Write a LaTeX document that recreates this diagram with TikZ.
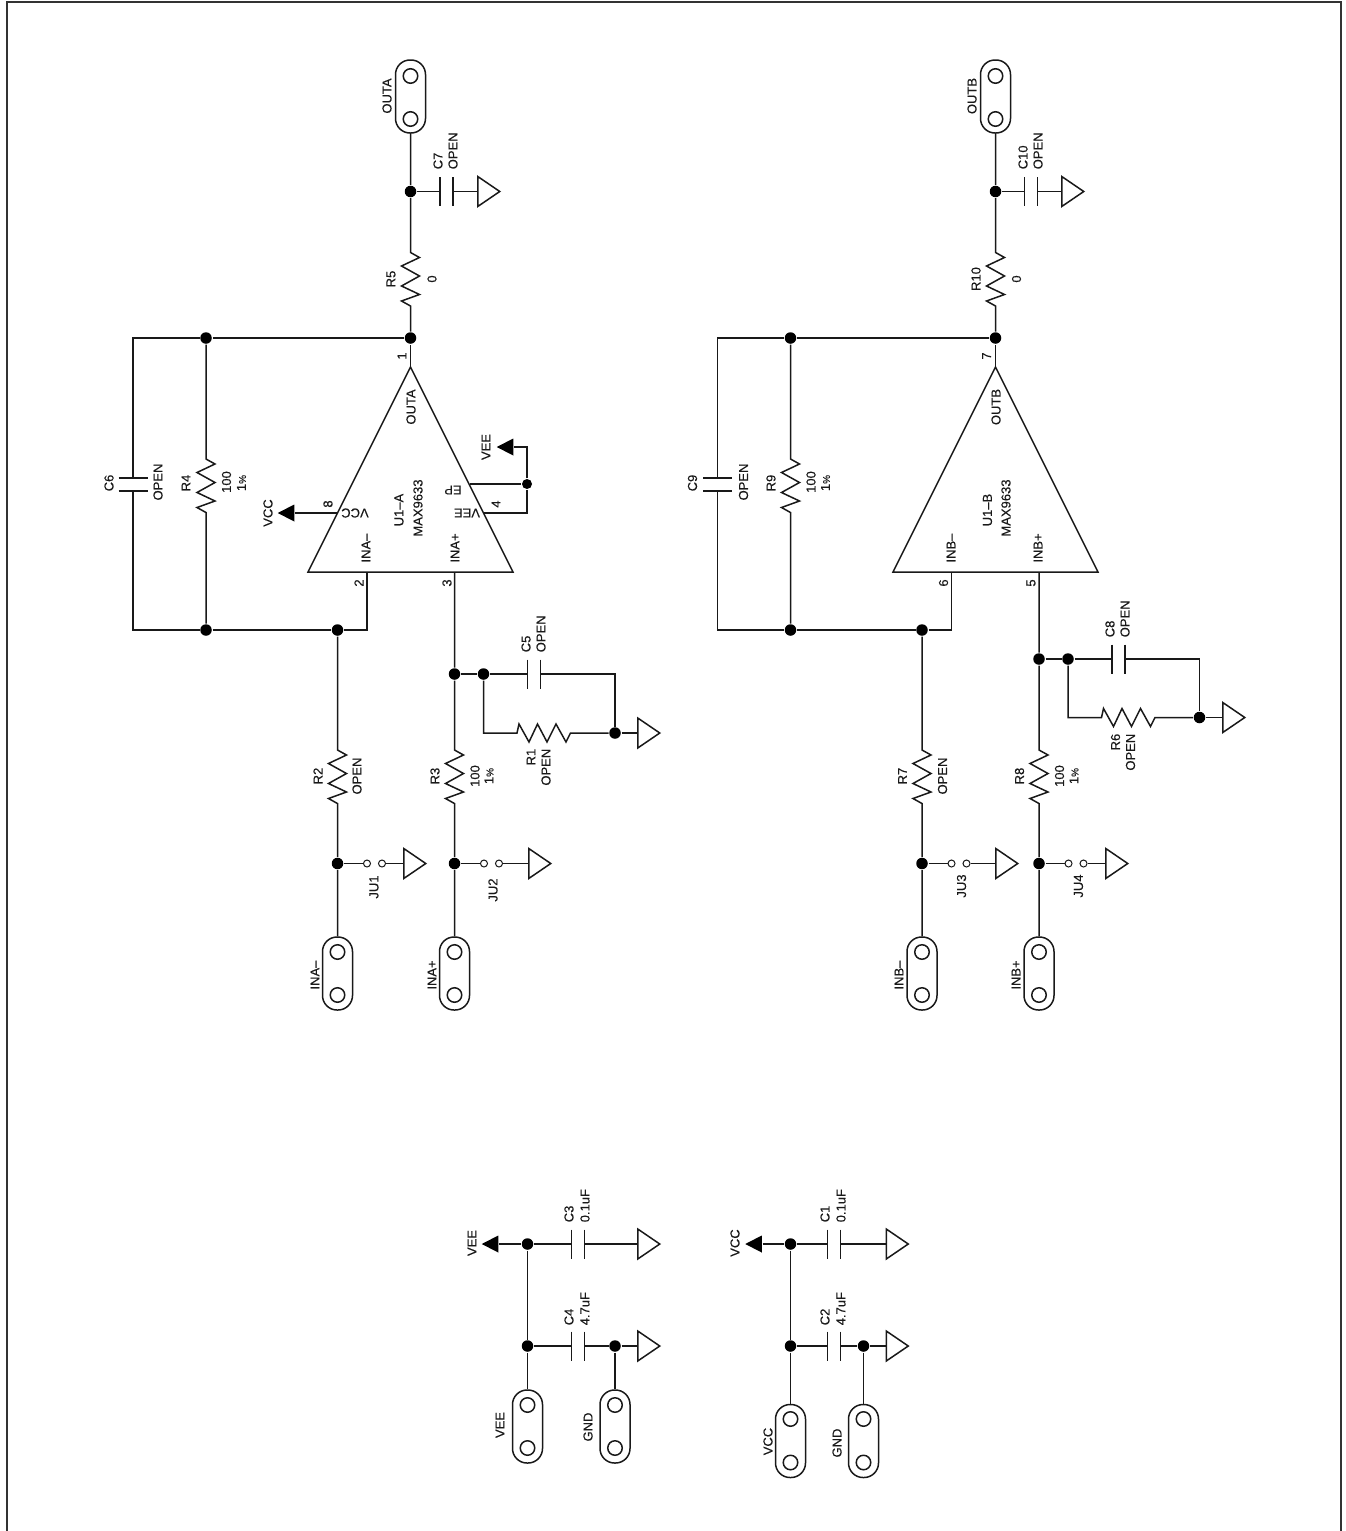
\documentclass[tikz,border=0pt]{standalone}
\usepackage{fontspec}
\setmainfont{Liberation Sans}[BoldFont=Liberation Sans, BoldFeatures={FakeBold=0.25}]
\newcommand{\onepct}{1{\fontsize{10}{10}\selectfont\%}}
\usetikzlibrary{shapes.geometric}

\begin{document}
\begin{tikzpicture}[x=1pt, y=-1pt, line width=1.5pt, black!90,
    frame/.style={line width=2pt, black!80},
    dot/.style={circle, fill=black, inner sep=0pt, minimum size=11.5pt},
    conn/.style={draw, rectangle, rounded corners=14.5pt, inner sep=0pt, minimum width=30pt, minimum height=73pt},
    hole/.style={draw, circle, inner sep=0pt, minimum size=14.5pt},
    jpin/.style={draw, circle, line width=1pt, inner sep=0pt, minimum size=7pt},
    gnd/.style={draw, isosceles triangle, isosceles triangle stretches, inner sep=0pt, minimum width=30pt, minimum height=22pt, anchor=lower side},
    supply/.style={fill=black, isosceles triangle, isosceles triangle stretches, shape border rotate=180, inner sep=0pt, minimum width=17pt, minimum height=16.5pt, anchor=lower side},
    lbl/.style={rotate=90, inner sep=0pt, font=\fontsize{13}{15}\selectfont\bfseries},
    lblb/.style={lbl, anchor=west},
    lblt/.style={lbl, anchor=east},
    lblu/.style={lbl, rotate=90},
    zv/.style={to path={-- ++(9,5) -- ++(-18,8.5) -- ++(18,10) -- ++(-18,10) -- ++(18,8.5) -- ++(-18,6.5) -- (\tikztotarget)}},
    zh/.style={to path={-- ++(2,-9) -- ++(10,18) -- ++(8.5,-18) -- ++(9.5,18) -- ++(9,-18) -- ++(10,18) -- (\tikztotarget)}},
    caph/.style={to path={(\tikztostart) ++(0,-14.5) -- ++(0,29) (\tikztotarget) ++(0,-14.5) -- ++(0,29) (\tikztotarget)}},
    capv/.style={to path={(\tikztostart) ++(-14.5,0) -- ++(29,0) (\tikztotarget) ++(-14.5,0) -- ++(29,0) (\tikztotarget)}}
    ]
\useasboundingbox (0,0) rectangle (1345,1531);
\draw[frame] (7,1535) -- (7,2) -- (1341,2) -- (1341,1535);

% amplifier A
\node[conn] (OUTA) at (410.5,96.5) {};
\node[hole] (OUTAh1) at (410.5,76) {};
\node[hole] (OUTAh2) at (410.5,119) {};
\node[lbl] (OUTAl) at (387,96) {OUTA};
\node[dot] (dA0) at (410.5,191.5) {};
\coordinate (C7a) at (440,191.5);
\coordinate (C7b) at (453,191.5);
\node[gnd] (gA0) at (477,191.5) {};
\node[lblb] (C7l) at (438,170) {C7};
\node[lblb] (C7v) at (453,170) {OPEN};
\coordinate (R5a) at (410.5,252.5);
\coordinate (R5b) at (410.5,306);
\node[lbl] (R5l) at (391,279) {R5};
\node[lbl] (R5v) at (432,279) {0};
\node[dot] (dA1) at (410.5,338) {};
\node[dot] (dA2) at (206,338) {};
\coordinate (cA1) at (133,338);
\coordinate (C6a) at (133,478);
\coordinate (C6b) at (133,491);
\coordinate (cA2) at (133,630);
\node[lbl] (C6l) at (109,483) {C6};
\node[lbl] (C6v) at (158,482) {OPEN};
\coordinate (R4a) at (206,459);
\coordinate (R4b) at (206,512.5);
\node[lbl] (R4l) at (186,483) {R4};
\node[lbl] (R4v) at (226.5,482) {100};
\node[lbl] (R4t) at (241.5,483) {\onepct};
\node[dot] (dA3) at (206,630) {};
\node[dot] (dA4) at (337.5,630) {};
\coordinate (cA3) at (367,630);
% U1-A
\coordinate (U1Aap) at (410.5,367);
\coordinate (U1Al) at (308,572);
\coordinate (U1Ar) at (513,572);
\coordinate (pA2) at (367,572);
\coordinate (pA3) at (454.5,572);
\coordinate (pA8) at (338,513);
\coordinate (pA4) at (483.5,513);
\coordinate (pAE) at (469.5,484);
\draw (U1Al) -- (U1Aap) -- (U1Ar) -- cycle;
\node[lbl] (U1Aout) at (411,407) {OUTA};
\node[lbl] (U1Aname) at (399,510) {U1–A};
\node[lbl] (U1Apart) at (418,508) {MAX9633};
\node[lbl] (U1Ainm) at (366,548) {INA–};
\node[lbl] (U1Ainp) at (455,548) {INA+};
\node[lblu] (U1Avcc) at (355,513) {VCC};
\node[lblu] (U1Avee) at (467,513) {VEE};
\node[lblu] (U1Aep) at (453,490) {EP};
\node[lbl] (p1l) at (402,356) {1};
\node[lbl] (p2l) at (359,583) {2};
\node[lbl] (p3l) at (447,583) {3};
\node[lbl] (p8l) at (328,504) {8};
\node[lbl] (p4l) at (496,504) {4};
\node[supply] (sVCCa) at (295,513) {};
\node[lbl] (sVCCal) at (268,513) {VCC};
\node[dot, minimum size=10pt] (dA5) at (527,484) {};
\coordinate (cA4) at (527,513);
\coordinate (cA5) at (527,447);
\node[supply] (sVEEa) at (514,447) {};
\node[lbl] (sVEEal) at (486,447) {VEE};
% inputs A
\coordinate (R2a) at (337.5,750);
\coordinate (R2b) at (337.5,803.5);
\node[lbl] (R2l) at (318,776) {R2};
\node[lbl] (R2v) at (357,776) {OPEN};
\node[dot] (dA6) at (337.5,863.5) {};
\node[jpin] (JU1a) at (367,863.5) {};
\node[jpin] (JU1b) at (382,863.5) {};
\node[gnd] (gA1) at (403,863.5) {};
\node[lbl] (JU1l) at (374,887) {JU1};
\node[conn] (INAm) at (337.5,973.5) {};
\node[hole] (INAmh1) at (337.5,952) {};
\node[hole] (INAmh2) at (337.5,995) {};
\node[lbl] (INAml) at (315,975) {INA–};
\node[dot] (dA7) at (454.5,674) {};
\node[dot] (dA8) at (483.5,674) {};
\coordinate (C5a) at (527.5,674);
\coordinate (C5b) at (540.5,674);
\coordinate (cA6) at (615,674);
\node[lblb] (C5l) at (526,653) {C5};
\node[lblb] (C5v) at (541,653) {OPEN};
\node[dot] (dA9) at (615,733) {};
\coordinate (R1a) at (517,733);
\coordinate (R1b) at (570.5,733);
\node[lblt] (R1l) at (531,748) {R1};
\node[lblt] (R1v) at (546,748) {OPEN};
\node[gnd] (gA2) at (637,733) {};
\coordinate (R3a) at (454.5,750);
\coordinate (R3b) at (454.5,803.5);
\node[lbl] (R3l) at (435,776) {R3};
\node[lbl] (R3v) at (475,776) {100};
\node[lbl] (R3t) at (489,776) {\onepct};
\node[dot] (dA10) at (454.5,863.5) {};
\node[jpin] (JU2a) at (484,863.5) {};
\node[jpin] (JU2b) at (499,863.5) {};
\node[gnd] (gA3) at (528,863.5) {};
\node[lbl] (JU2l) at (493,890) {JU2};
\node[conn] (INAp) at (454.5,973.5) {};
\node[hole] (INAph1) at (454.5,952) {};
\node[hole] (INAph2) at (454.5,995) {};
\node[lbl] (INApl) at (432,975) {INA+};
\draw (OUTA) -- (dA0) -- (R5a) to[zv] (R5b) -- (dA1);
\draw (dA0) -- (C7a) to[caph] (C7b) -- (gA0.lower side);
\draw (U1Aap) -- (dA1) -- (dA2) -- (cA1) -- (C6a) to[capv] (C6b) -- (cA2) -- (dA3) -- (dA4) -- (cA3) -- (pA2);
\draw (dA2) -- (R4a) to[zv] (R4b) -- (dA3);
\draw (pA8) -- (sVCCa.lower side);
\draw (pAE) -- (dA5);
\draw (pA4) -- (cA4) -- (dA5) -- (cA5) -- (sVEEa.lower side);
\draw (dA4) -- (R2a) to[zv] (R2b) -- (dA6) -- (INAm);
\draw (dA6) -- (JU1a);
\draw (JU1b) -- (gA1.lower side);
\draw (pA3) -- (dA7) -- (R3a) to[zv] (R3b) -- (dA10) -- (INAp);
\draw (dA7) -- (dA8) -- (C5a) to[caph] (C5b) -- (cA6) -- (dA9) -- (gA2.lower side);
\draw (dA8) |- (R1a) to[zh] (R1b) -- (dA9);
\draw (dA10) -- (JU2a);
\draw (JU2b) -- (gA3.lower side);

% amplifier B
\node[conn] (OUTB) at (995.5,96.5) {};
\node[hole] (OUTBh1) at (995.5,76) {};
\node[hole] (OUTBh2) at (995.5,119) {};
\node[lbl] (OUTBl) at (972,96) {OUTB};
\node[dot] (dB0) at (995.5,191.5) {};
\coordinate (C10a) at (1024.5,191.5);
\coordinate (C10b) at (1037.5,191.5);
\node[gnd] (gB0) at (1061,191.5) {};
\node[lblb] (C10l) at (1023,170) {C10};
\node[lblb] (C10v) at (1038,170) {OPEN};
\coordinate (R10a) at (995.5,252.5);
\coordinate (R10b) at (995.5,306);
\node[lbl] (R10l) at (976,279) {R10};
\node[lbl] (R10v) at (1016.5,279) {0};
\node[dot] (dB1) at (995.5,338) {};
\node[dot] (dB2) at (790.5,338) {};
\coordinate (cB1) at (717.5,338);
\coordinate (C9a) at (717.5,478);
\coordinate (C9b) at (717.5,491);
\coordinate (cB2) at (717.5,630);
\node[lbl] (C9l) at (692.5,483) {C9};
\node[lbl] (C9v) at (743.5,482) {OPEN};
\coordinate (R9a) at (790.5,459);
\coordinate (R9b) at (790.5,512.5);
\node[lbl] (R9l) at (771,483) {R9};
\node[lbl] (R9v) at (811,482) {100};
\node[lbl] (R9t) at (825.5,483) {\onepct};
\node[dot] (dB3) at (790.5,630) {};
\node[dot] (dB4) at (922,630) {};
\coordinate (cB3) at (951.5,630);
% U1-B
\coordinate (U1Bap) at (995.5,367);
\coordinate (U1Bl) at (893,572);
\coordinate (U1Br) at (1098,572);
\coordinate (pB6) at (951.5,572);
\coordinate (pB5) at (1039,572);
\draw (U1Bl) -- (U1Bap) -- (U1Br) -- cycle;
\node[lbl] (U1Bout) at (996,407) {OUTB};
\node[lbl] (U1Bname) at (987.5,510) {U1–B};
\node[lbl] (U1Bpart) at (1006,508) {MAX9633};
\node[lbl] (U1Binm) at (951,548) {INB–};
\node[lbl] (U1Binp) at (1038,548) {INB+};
\node[lbl] (p7l) at (986.5,356) {7};
\node[lbl] (p6l) at (943.5,583) {6};
\node[lbl] (p5l) at (1031,583) {5};
% inputs B
\coordinate (R7a) at (922,750);
\coordinate (R7b) at (922,803.5);
\node[lbl] (R7l) at (902.5,776) {R7};
\node[lbl] (R7v) at (942.5,776) {OPEN};
\node[dot] (dB6) at (922,863.5) {};
\node[jpin] (JU3a) at (951.5,863.5) {};
\node[jpin] (JU3b) at (966.5,863.5) {};
\node[gnd] (gB1) at (995,863.5) {};
\node[lbl] (JU3l) at (961.5,886) {JU3};
\node[conn] (INBm) at (922,973.5) {};
\node[hole] (INBmh1) at (922,952) {};
\node[hole] (INBmh2) at (922,995) {};
\node[lbl] (INBml) at (899,975) {INB–};
\node[dot] (dB7) at (1039,659) {};
\node[dot] (dB8) at (1068,659) {};
\coordinate (C8a) at (1112,659);
\coordinate (C8b) at (1125,659);
\coordinate (cB6) at (1199.5,659);
\node[lblb] (C8l) at (1110,638) {C8};
\node[lblb] (C8v) at (1125,638) {OPEN};
\node[dot] (dB9) at (1199.5,717.5) {};
\coordinate (R6a) at (1101.5,717.5);
\coordinate (R6b) at (1155,717.5);
\node[lblt] (R6l) at (1115.5,733) {R6};
\node[lblt] (R6v) at (1130.5,733) {OPEN};
\node[gnd] (gB2) at (1222,717.5) {};
\coordinate (R8a) at (1039,750);
\coordinate (R8b) at (1039,803.5);
\node[lbl] (R8l) at (1019.5,776) {R8};
\node[lbl] (R8v) at (1059.5,776) {100};
\node[lbl] (R8t) at (1074,776) {\onepct};
\node[dot] (dB10) at (1039,863.5) {};
\node[jpin] (JU4a) at (1068.5,863.5) {};
\node[jpin] (JU4b) at (1083.5,863.5) {};
\node[gnd] (gB3) at (1105,863.5) {};
\node[lbl] (JU4l) at (1078.5,886) {JU4};
\node[conn] (INBp) at (1039,973.5) {};
\node[hole] (INBph1) at (1039,952) {};
\node[hole] (INBph2) at (1039,995) {};
\node[lbl] (INBpl) at (1016,975) {INB+};
\draw (OUTB) -- (dB0) -- (R10a) to[zv] (R10b) -- (dB1);
\draw (dB0) -- (C10a) to[caph] (C10b) -- (gB0.lower side);
\draw (U1Bap) -- (dB1) -- (dB2) -- (cB1) -- (C9a) to[capv] (C9b) -- (cB2) -- (dB3) -- (dB4) -- (cB3) -- (pB6);
\draw (dB2) -- (R9a) to[zv] (R9b) -- (dB3);
\draw (dB4) -- (R7a) to[zv] (R7b) -- (dB6) -- (INBm);
\draw (dB6) -- (JU3a);
\draw (JU3b) -- (gB1.lower side);
\draw (pB5) -- (dB7) -- (R8a) to[zv] (R8b) -- (dB10) -- (INBp);
\draw (dB7) -- (dB8) -- (C8a) to[caph] (C8b) -- (cB6) -- (dB9) -- (gB2.lower side);
\draw (dB8) |- (R6a) to[zh] (R6b) -- (dB9);
\draw (dB10) -- (JU4a);
\draw (JU4b) -- (gB3.lower side);

% VEE supply
\node[supply] (sVEEb) at (499,1244) {};
\node[lbl] (sVEEbl) at (472,1243) {VEE};
\node[dot] (dE1) at (527.5,1244) {};
\coordinate (C3a) at (571.5,1244);
\coordinate (C3b) at (584.5,1244);
\node[lblb] (C3l) at (569,1223) {C3};
\node[lblb] (C3v) at (585,1223) {0.1uF};
\node[gnd] (gE1) at (637,1244) {};
\node[dot] (dE2) at (527.5,1346) {};
\coordinate (C4a) at (571.5,1346);
\coordinate (C4b) at (584.5,1346);
\node[lblb] (C4l) at (569,1326) {C4};
\node[lblb] (C4v) at (585,1326) {4.7uF};
\node[dot] (dE3) at (615,1346) {};
\node[gnd] (gE2) at (637,1346) {};
\node[conn] (VEEc) at (527.5,1426.5) {};
\node[hole] (VEEch1) at (527.5,1405) {};
\node[hole] (VEEch2) at (527.5,1448) {};
\node[lbl] (VEEcl) at (500,1425) {VEE};
\node[conn] (GNDe) at (615,1426.5) {};
\node[hole] (GNDeh1) at (615,1405) {};
\node[hole] (GNDeh2) at (615,1448) {};
\node[lbl] (GNDel) at (588,1427) {GND};
\draw (sVEEb.lower side) -- (dE1) -- (C3a) to[caph] (C3b) -- (gE1.lower side);
\draw (dE1) -- (dE2) -- (VEEc);
\draw (dE2) -- (C4a) to[caph] (C4b) -- (dE3) -- (gE2.lower side);
\draw (dE3) -- (GNDe);

% VCC supply
\node[supply] (sVCCb) at (762.5,1244) {};
\node[lbl] (sVCCbl) at (735,1243) {VCC};
\node[dot] (dC1) at (790.5,1244) {};
\coordinate (C1a) at (827.5,1244);
\coordinate (C1b) at (840.5,1244);
\node[lblb] (C1l) at (825,1223) {C1};
\node[lblb] (C1v) at (841,1223) {0.1uF};
\node[gnd] (gC1) at (885.5,1244) {};
\node[dot] (dC2) at (790.5,1346) {};
\coordinate (C2a) at (827.5,1346);
\coordinate (C2b) at (840.5,1346);
\node[lblb] (C2l) at (825,1326) {C2};
\node[lblb] (C2v) at (841,1326) {4.7uF};
\node[dot] (dC3) at (863.5,1346) {};
\node[gnd] (gC2) at (885.5,1346) {};
\node[conn] (VCCc) at (790.5,1441) {};
\node[hole] (VCCch1) at (790.5,1419) {};
\node[hole] (VCCch2) at (790.5,1462.5) {};
\node[lbl] (VCCcl) at (768,1441.5) {VCC};
\node[conn] (GNDc) at (863.5,1441) {};
\node[hole] (GNDch1) at (863.5,1419) {};
\node[hole] (GNDch2) at (863.5,1462.5) {};
\node[lbl] (GNDcl) at (837,1443) {GND};
\draw (sVCCb.lower side) -- (dC1) -- (C1a) to[caph] (C1b) -- (gC1.lower side);
\draw (dC1) -- (dC2) -- (VCCc);
\draw (dC2) -- (C2a) to[caph] (C2b) -- (dC3) -- (gC2.lower side);
\draw (dC3) -- (GNDc);
\end{tikzpicture}
\end{document}
